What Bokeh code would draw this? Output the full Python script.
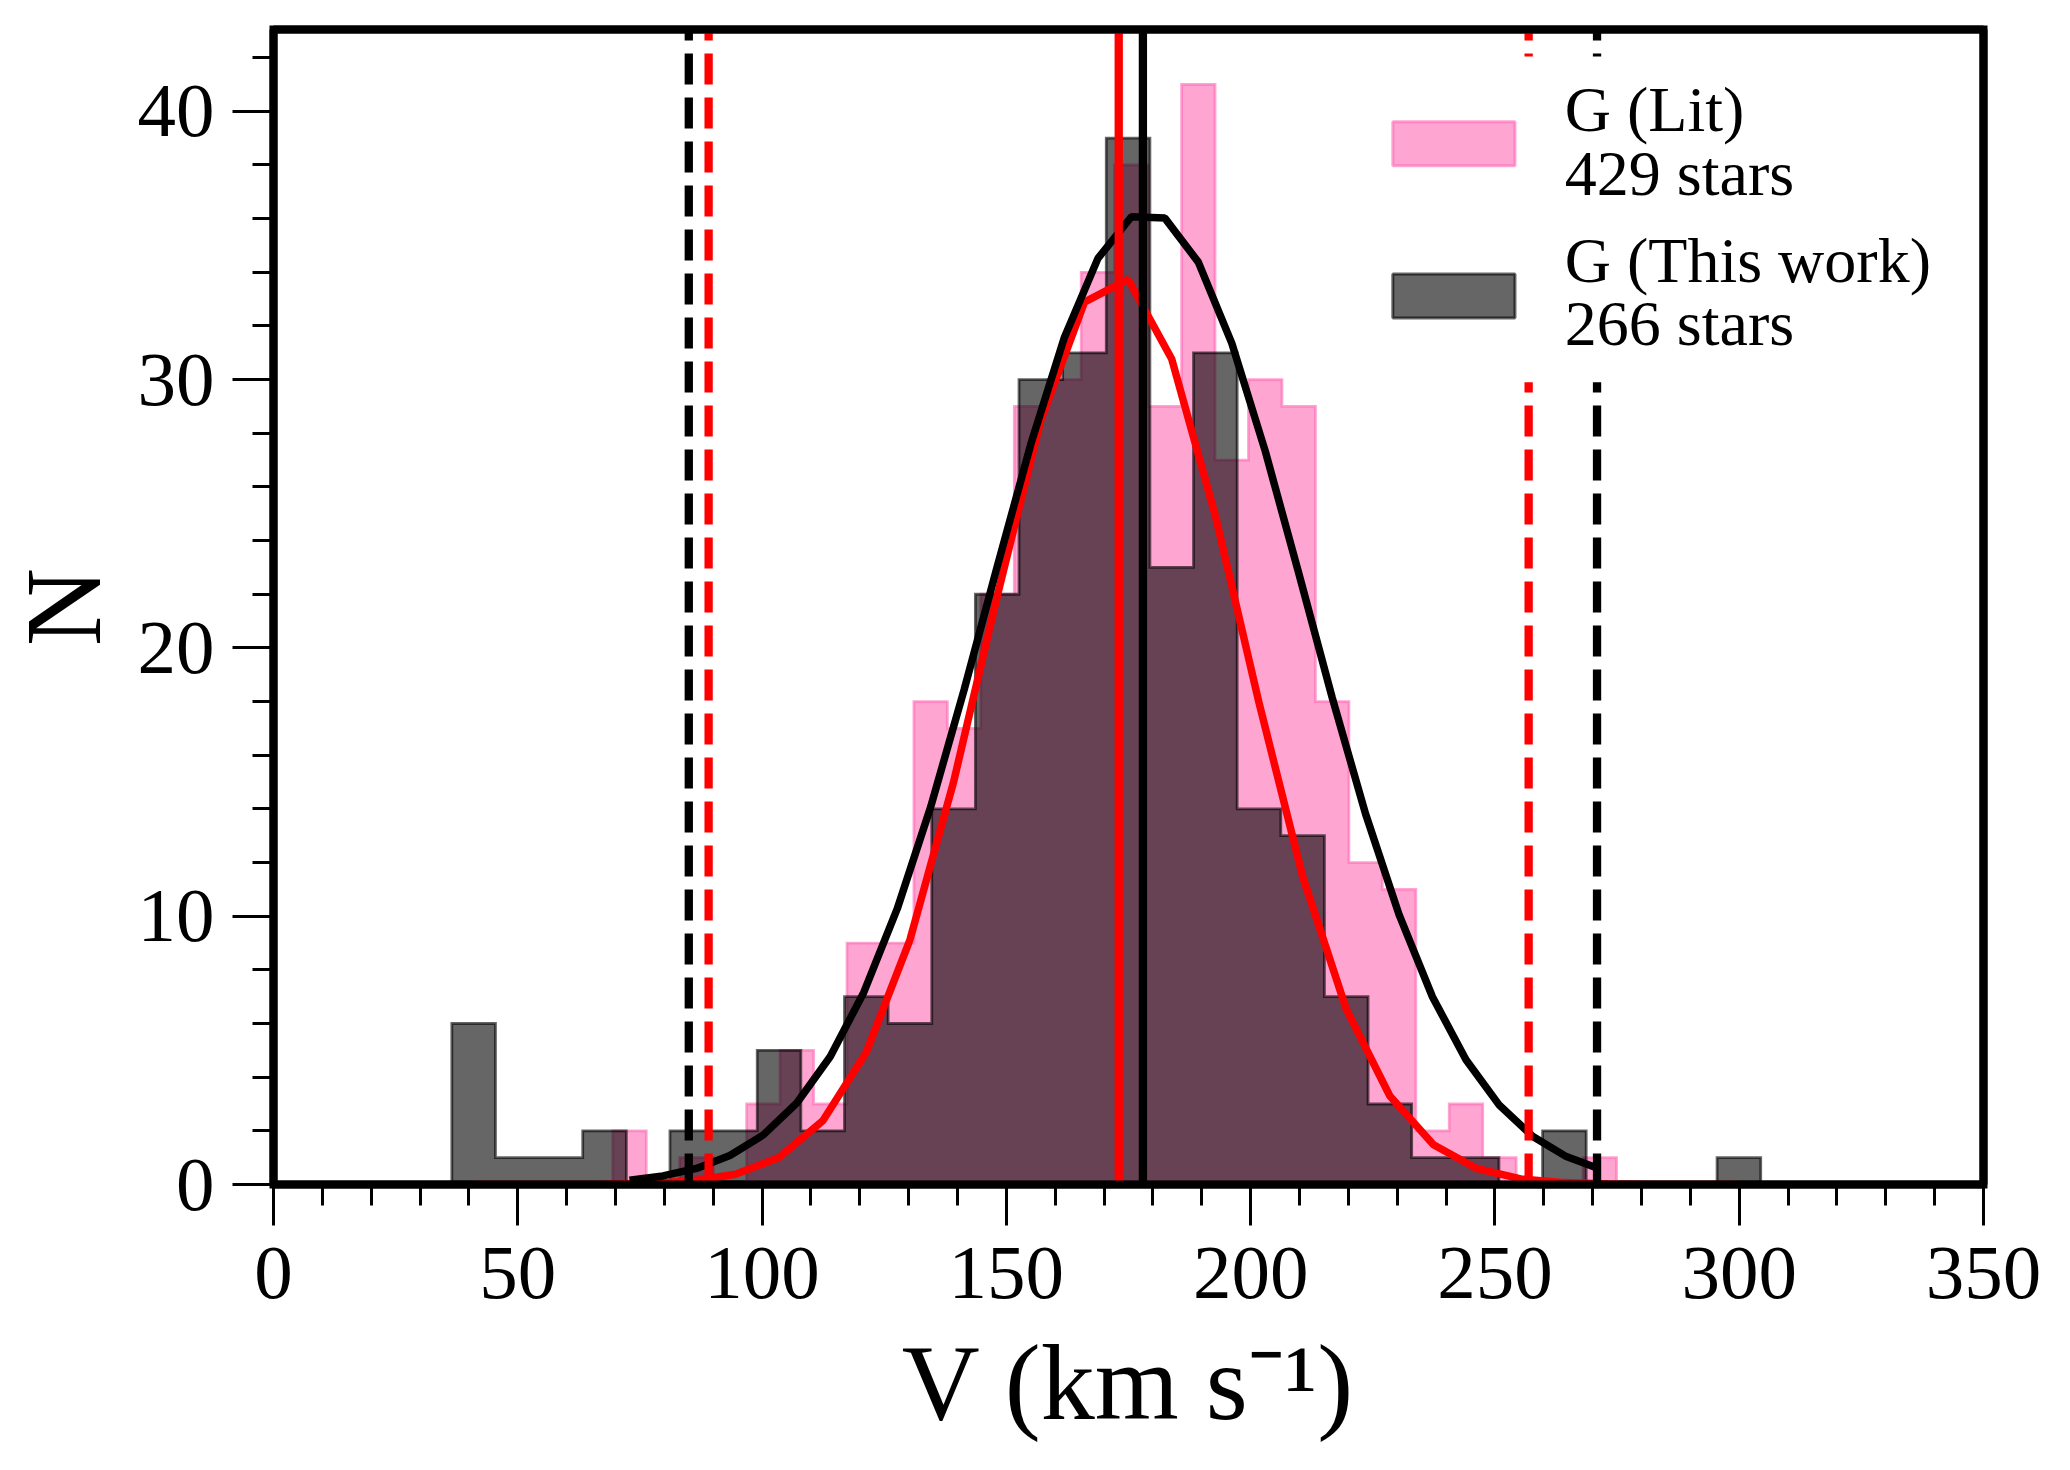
from bokeh.plotting import figure
from bokeh.models import Range1d, SingleIntervalTicker, FixedTicker, LinearAxis
from bokeh.embed import file_html
from bokeh.resources import INLINE
from bokeh.core.properties import value

# ---------------- data ----------------
# G (Lit) histogram: bin edges and counts
lit_edges = [69.45, 76.30, 83.15, 89.99, 96.84, 103.69, 110.54, 117.39, 124.23, 131.08,
             137.93, 144.78, 151.63, 158.47, 165.32, 172.17, 179.02, 185.87, 192.71, 199.56,
             206.41, 213.26, 220.11, 226.95, 233.80, 240.65, 247.50, 254.35, 261.19, 268.04,
             274.89]
lit_counts = [2, 0, 1, 0, 3, 5, 3, 9, 9, 18,
              17, 22, 29, 30, 34, 38, 29, 41, 27, 30,
              29, 18, 12, 11, 2, 3, 1, 0, 0, 1]

# G (This work) histogram: bin edges and counts
work_edges = [36.50, 45.43, 54.36, 63.29, 72.22, 81.15, 90.08, 99.01, 107.94, 116.87,
              125.80, 134.73, 143.66, 152.59, 161.52, 170.45, 179.38, 188.31, 197.24, 206.17,
              215.10, 224.03, 232.96, 241.89, 250.82, 259.75, 268.68, 277.61, 286.54, 295.47,
              304.40]
work_counts = [6, 1, 1, 2, 0, 2, 2, 5, 2, 7,
               6, 14, 22, 30, 31, 39, 23, 31, 14, 13,
               7, 3, 1, 1, 0, 2, 0, 0, 0, 1]

# black fitted curve (drawn at the Lit bin centres)
black_fit = [0.16, 0.32, 0.60, 1.08, 1.85, 3.04, 4.77, 7.16, 10.27, 14.07,
             18.44, 23.08, 27.62, 31.58, 34.52, 36.07, 36.02, 34.38, 31.36, 27.34,
             22.79, 18.15, 13.81, 10.06, 6.99, 4.65, 2.95, 1.79, 1.04, 0.58]
# red fitted curve (drawn at the This-work bin centres)
red_fit = [0.0, 0.0, 0.0, 0.01, 0.04, 0.13, 0.38, 1.01, 2.37, 4.93,
           9.12, 15.0, 21.93, 28.49, 32.89, 33.74, 30.77, 24.93, 17.96, 11.49,
           6.54, 3.30, 1.48, 0.59, 0.21, 0.07, 0.02, 0.0, 0.0, 0.0]

# vertical lines: means and limits
black_mean, black_limits = 177.95, [85.0, 270.9]
red_mean, red_limits = 173.0, [89.06, 256.9]

legend_titles = ["G (Lit)", "G (This work)"]
legend_counts = ["429 stars", "266 stars"]

x_ticks_interval = 50
y_ticks_interval = 10
X_MAX, Y_MAX = 350, 43.05

# ---------------- helpers ----------------
def step_outline(edges, counts):
    xs = [edges[0]]
    ys = [0]
    for i, c in enumerate(counts):
        xs += [edges[i], edges[i + 1]]
        ys += [c, c]
    xs.append(edges[-1])
    ys.append(0)
    return xs, ys

def centers(edges):
    return [(edges[i] + edges[i + 1]) / 2 for i in range(len(edges) - 1)]

FONT = "Liberation Serif"
SPINE = 8

p = figure(width=2054, height=1454, output_backend="svg", toolbar_location=None,
           x_range=Range1d(0, X_MAX), y_range=Range1d(0, Y_MAX),
           min_border_left=263, min_border_right=71, min_border_top=29, min_border_bottom=270)
p.background_fill_color = "white"
p.border_fill_color = "white"
p.xgrid.visible = False
p.ygrid.visible = False
p.outline_line_color = "black"
p.outline_line_width = SPINE
p.outline_line_join = "miter"

# histograms (stepfilled)
lx, ly = step_outline(lit_edges, lit_counts)
p.patch(lx, ly, fill_color="hotpink", fill_alpha=0.6, line_color="hotpink",
        line_alpha=0.6, line_width=2.8, line_join="miter")
wx, wy = step_outline(work_edges, work_counts)
p.patch(wx, wy, fill_color="black", fill_alpha=0.6, line_color="black",
        line_alpha=0.6, line_width=2.8, line_join="miter")

# fitted curves
p.line(centers(work_edges), red_fit, line_color="red", line_width=7.5)
p.line(centers(lit_edges), black_fit, line_color="black", line_width=7.5)

# vertical lines
p.segment(x0=red_limits, y0=[0, 0], x1=red_limits, y1=[Y_MAX, Y_MAX],
          line_color="red", line_width=8.3, line_dash="31 13")
p.segment(x0=black_limits, y0=[0, 0], x1=black_limits, y1=[Y_MAX, Y_MAX],
          line_color="black", line_width=8.3, line_dash="31 13")
p.segment(x0=[red_mean], y0=[0], x1=[red_mean], y1=[Y_MAX], line_color="red", line_width=8.3)
p.segment(x0=[black_mean], y0=[0], x1=[black_mean], y1=[Y_MAX], line_color="black", line_width=8.3)

# legend (white box, swatches, texts)
p.quad(left=[223.6], right=[344.3], bottom=[29.90], top=[42.04],
       fill_color="white", line_color=None)
p.quad(left=[229.1], right=[254.1], bottom=[37.97], top=[39.61],
       fill_color="hotpink", fill_alpha=0.6, line_color="hotpink", line_alpha=0.6, line_width=3)
p.quad(left=[229.1], right=[254.1], bottom=[32.30], top=[33.94],
       fill_color="black", fill_alpha=0.6, line_color="black", line_alpha=0.6, line_width=3)
p.text(x=[264.3, 264.3, 264.3, 264.3], y=[40.05, 37.70, 34.45, 32.10],
       text=[legend_titles[0], legend_counts[0], legend_titles[1], legend_counts[1]],
       text_font=value(FONT), text_font_size="64px", text_color="black",
       text_baseline="alphabetic", text_align="left")

# main axes
xax = p.below[0]
yax = p.left[0]
xax.ticker = SingleIntervalTicker(interval=x_ticks_interval, num_minor_ticks=5)
yax.ticker = SingleIntervalTicker(interval=y_ticks_interval, num_minor_ticks=5)
for ax in (xax, yax):
    ax.axis_line_color = "black"
    ax.axis_line_width = SPINE
    ax.major_tick_in = 0
    ax.major_tick_out = 41
    ax.minor_tick_in = 0
    ax.minor_tick_out = 21
    ax.major_tick_line_width = 3
    ax.minor_tick_line_width = 3
    ax.major_tick_line_color = "black"
    ax.minor_tick_line_color = "black"
    ax.major_label_text_font = FONT
    ax.major_label_text_font_size = "77px"
    ax.major_label_text_color = "black"
    ax.axis_label_text_font = FONT
    ax.axis_label_text_font_size = "108px"
    ax.axis_label_text_font_style = "normal"
    ax.axis_label_text_color = "black"

xax.axis_label = "V (km s\u207b\u00b9)"
yax.axis_label = "N"
xax.major_label_standoff = 22
yax.major_label_standoff = 18
xax.axis_label_standoff = 22
yax.axis_label_standoff = 12

# plain spines on the right and top, drawn above the glyphs
for side in ("right", "above"):
    spine = LinearAxis(ticker=FixedTicker(ticks=[]), axis_line_width=SPINE,
                       axis_line_color="black", major_label_text_font_size="0px",
                       major_tick_line_color=None, minor_tick_line_color=None,
                       major_tick_out=0, minor_tick_out=0,
                       major_label_standoff=0, axis_label_standoff=0)
    p.add_layout(spine, side)

open("out.html", "w").write(file_html(p, INLINE))
